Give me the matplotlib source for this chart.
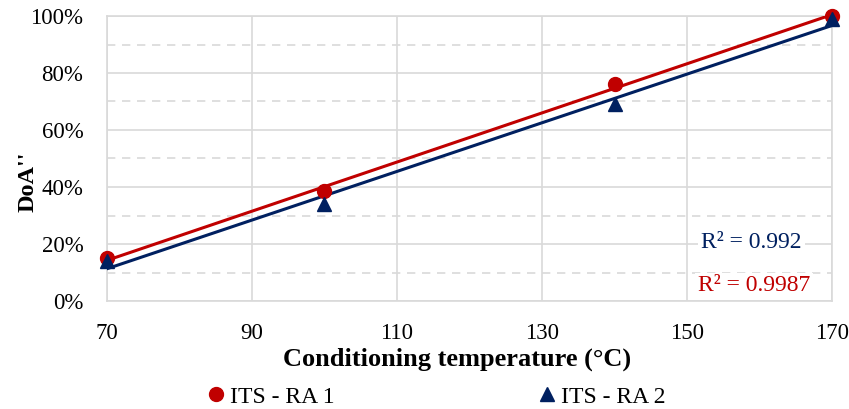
import numpy as np
import matplotlib
matplotlib.use("Agg")
import matplotlib.pyplot as plt
from matplotlib.ticker import MultipleLocator, FuncFormatter

plt.rcParams["font.family"] = ["Liberation Serif", "DejaVu Serif"]

RED = "#c00000"
NAVY = "#002060"
GRID = "#d9d9d9"

temps = [70, 100, 140, 170]
ra1 = [15.0, 38.5, 76.0, 100.0]
ra2 = [14.0, 34.0, 69.0, 99.0]
r2_labels = ["R² = 0.9987", "R² = 0.992"]

fig = plt.figure(figsize=(8.49, 4.09), dpi=100)
ax = fig.add_axes([107 / 849, 1 - 301 / 409, 725 / 849, 285 / 409])

x = np.array(temps, dtype=float)
xs = np.array([70.0, 170.0])
for ys, col, mk, lab in [(ra1, RED, "o", "ITS - RA 1"), (ra2, NAVY, "^", "ITS - RA 2")]:
    k, b = np.polyfit(x, np.array(ys) / 100, 1)
    ax.plot(xs, k * xs + b, color=col, lw=2.2, zorder=3)
    ax.plot(x, np.array(ys) / 100, ls="none", marker=mk, ms=10, color=col,
            label=lab, zorder=4, clip_on=False)

ax.set_xlim(70, 170)
ax.set_ylim(0, 1)
ax.set_xticks(range(70, 171, 20))
ax.yaxis.set_major_locator(MultipleLocator(0.2))
ax.yaxis.set_minor_locator(MultipleLocator(0.1))
ax.yaxis.set_major_formatter(FuncFormatter(lambda v, p: f"{v * 100:.0f}%"))
ax.grid(True, which="major", color=GRID, lw=1.2)
ax.grid(True, which="minor", axis="y", color=GRID, lw=1.2, ls=(0, (5, 4)))
ax.set_axisbelow(True)
for s in ax.spines.values():
    s.set_color(GRID)
    s.set_linewidth(1.2)
ax.tick_params(which="both", length=0, labelsize=16.5, colors="black")
ax.tick_params(axis="x", pad=16)
ax.tick_params(axis="y", pad=17)

ax.set_xlabel("Conditioning temperature (°C)", fontsize=19, fontweight="bold")
ax.xaxis.set_label_coords(0.483, -0.165)
ax.set_ylabel("DoA''", fontsize=17.5, fontweight="bold")
ax.yaxis.set_label_coords(-0.095, 0.42)

box = dict(facecolor="white", edgecolor="none", pad=2)
ax.text(0.893, 0.053, r2_labels[0], transform=ax.transAxes, ha="center", va="center",
        color=RED, fontsize=17, bbox=box)
ax.text(0.889, 0.207, r2_labels[1], transform=ax.transAxes, ha="center", va="center",
        color=NAVY, fontsize=17, bbox=box)

fig.legend(loc="center", bbox_to_anchor=(0.511, 1 - 397 / 409), ncol=2, frameon=False,
           fontsize=17, handletextpad=0.0, columnspacing=8.4, handlelength=1.2)

fig.savefig("out.png", dpi=100)
